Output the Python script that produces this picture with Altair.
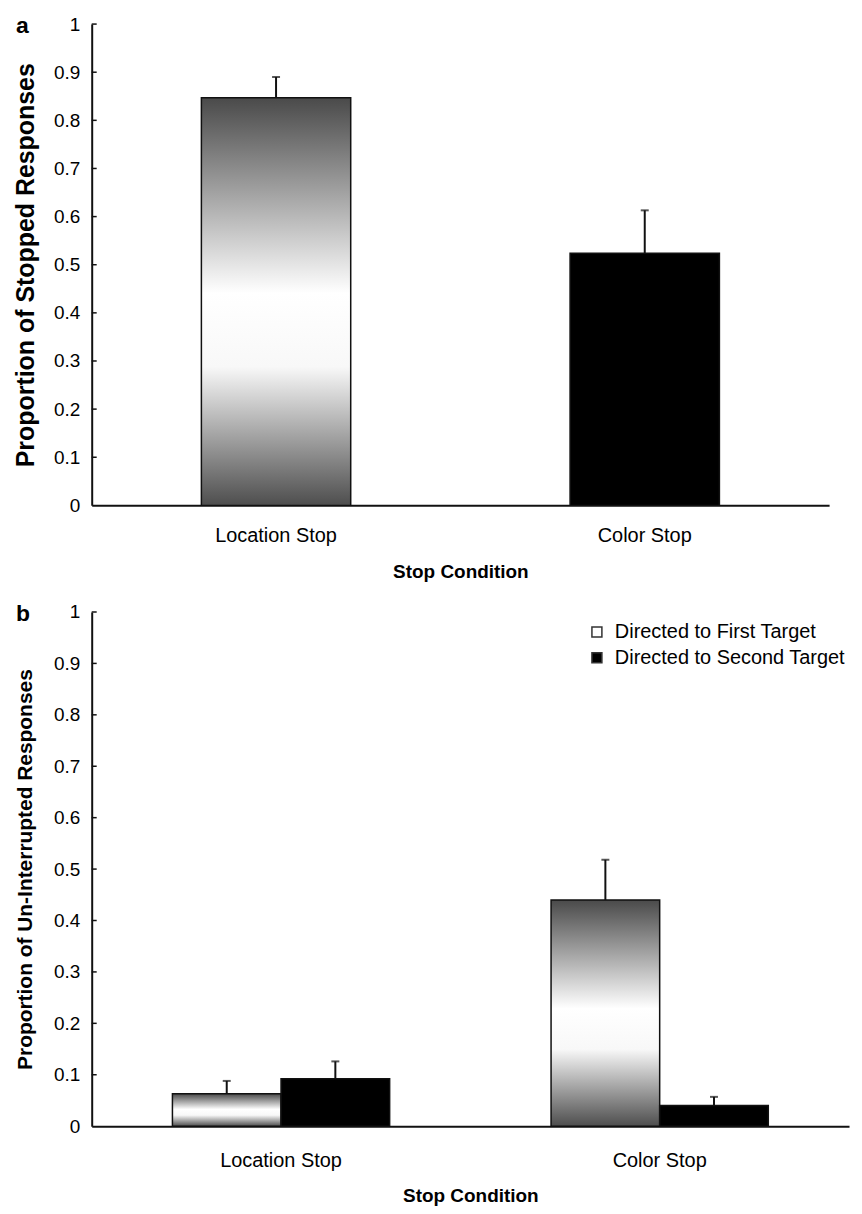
import altair as alt
import pandas as pd

# ---------------- data ----------------
conditions = ["Location Stop", "Color Stop"]

# panel a
a_values = [0.847, 0.524]
a_upper = [0.890, 0.613]

# panel b
series = ["Directed to First Target", "Directed to Second Target"]
b_first = [0.063, 0.440]
b_first_upper = [0.088, 0.518]
b_second = [0.092, 0.040]
b_second_upper = [0.126, 0.057]

y_ticks = [0.0, 0.1, 0.2, 0.3, 0.4, 0.5, 0.6, 0.7, 0.8, 0.9, 1.0]
inner_ticks = [0.1, 0.2, 0.3, 0.4, 0.5, 0.6, 0.7, 0.8, 0.9, 1.0]
panel_labels = ["a", "b"]

FONT = "Liberation Sans"
INK = "#111111"

grad = alt.LinearGradient(
    gradient="linear",
    stops=[
        alt.GradientStop(color="#4a4a4a", offset=0),
        alt.GradientStop(color="#ffffff", offset=0.48),
        alt.GradientStop(color="#f8f8f8", offset=0.66),
        alt.GradientStop(color="#4e4e4e", offset=1),
    ],
    x1=0, x2=0, y1=0, y2=1,
)

df_a = pd.DataFrame({"cond": conditions, "value": a_values, "upper": a_upper})
df_b = pd.DataFrame({
    "cond": conditions + conditions,
    "series": [series[0]] * 2 + [series[1]] * 2,
    "value": b_first + b_second,
    "upper": b_first_upper + b_second_upper,
})
df_t = pd.DataFrame({"v": inner_ticks})


def y_axis(title, title_size, title_pad):
    return alt.Axis(
        title=title, values=y_ticks, format=".1~f", ticks=False,
        labelPadding=12, titlePadding=title_pad, titleFontSize=title_size,
    )


def x_axis(label_pad, title_pad):
    return alt.Axis(title="Stop Condition", labelAngle=0, ticks=False,
                    labelFontSize=20, labelPadding=label_pad, titlePadding=title_pad)


def panel_label(txt):
    return alt.Chart(pd.DataFrame({"t": [txt]})).mark_text(
        font=FONT, fontSize=23, fontWeight="bold", align="left",
        baseline="alphabetic", color="black",
    ).encode(text="t:N", x=alt.value(-76), y=alt.value(9))


# ---------------- panel a ----------------
xa_scale = alt.Scale(paddingInner=0.595, paddingOuter=0.2975)
base_a = alt.Chart(df_a)
bars_a = base_a.mark_bar(stroke=INK, strokeWidth=1.5).encode(
    x=alt.X("cond:N", sort=conditions, scale=xa_scale, axis=x_axis(20, 17)),
    y=alt.Y("value:Q", scale=alt.Scale(domain=[0, 1]),
            axis=y_axis("Proportion of Stopped Responses", 25, 15)),
    fill=alt.condition(alt.datum.cond == conditions[0], alt.value(grad), alt.value("black")),
)
err_a = base_a.mark_rule(color=INK, strokeWidth=2).encode(
    x=alt.X("cond:N", sort=conditions), y="value:Q", y2="upper:Q")
cap_a = base_a.mark_tick(color=INK, thickness=2, size=8, orient="horizontal").encode(
    x=alt.X("cond:N", sort=conditions), y="upper:Q")
ticks_a = alt.Chart(df_t).mark_rule(color=INK, strokeWidth=1.5).encode(
    y="v:Q", x=alt.value(0), x2=alt.value(5))

panel_a = alt.layer(bars_a, err_a, cap_a, ticks_a, panel_label(panel_labels[0])).properties(
    width=740, height=483)

# ---------------- panel b ----------------
xb_scale = alt.Scale(paddingInner=0.4263, paddingOuter=0.2132)
base_b = alt.Chart(df_b)
xoff = alt.XOffset("series:N", sort=series)
bars_b = base_b.mark_bar(stroke=INK, strokeWidth=1.5).encode(
    x=alt.X("cond:N", sort=conditions, scale=xb_scale, axis=x_axis(24, 17)),
    xOffset=xoff,
    y=alt.Y("value:Q", scale=alt.Scale(domain=[0, 1]),
            axis=y_axis("Proportion of Un-Interrupted Responses", 21, 18)),
    fill=alt.condition(
        alt.datum.series == series[0],
        alt.value(grad),
        alt.Fill("series:N", sort=series,
                 scale=alt.Scale(domain=series, range=["white", "black"]),
                 legend=alt.Legend(orient="none", legendX=497, legendY=10, title=None,
                                   labelFontSize=20, labelFont=FONT, labelLimit=0,
                                   symbolSize=100, symbolType="square",
                                   symbolStrokeColor="#333333", symbolStrokeWidth=1.5,
                                   rowPadding=6, labelOffset=8)),
    ),
)
err_b = base_b.mark_rule(color=INK, strokeWidth=2).encode(
    x=alt.X("cond:N", sort=conditions), xOffset=xoff, y="value:Q", y2="upper:Q")
cap_b = base_b.mark_tick(color=INK, thickness=2, size=8, orient="horizontal").encode(
    x=alt.X("cond:N", sort=conditions), xOffset=xoff, y="upper:Q")
ticks_b = alt.Chart(df_t).mark_rule(color=INK, strokeWidth=1.5).encode(
    y="v:Q", x=alt.value(0), x2=alt.value(5))

panel_b = alt.layer(bars_b, err_b, cap_b, ticks_b, panel_label(panel_labels[1])).properties(
    width=760, height=516)

chart = alt.vconcat(panel_a, panel_b, spacing=22).resolve_legend(
    fill="independent"
).resolve_scale(
    fill="independent"
).configure(
    background="white"
).configure_view(
    stroke=None
).configure_axis(
    grid=False, domainColor=INK, domainWidth=2,
    labelFont=FONT, labelFontSize=19, labelColor="black",
    titleFont=FONT, titleFontSize=19, titleFontWeight="bold", titleColor="black",
)

chart.save("out.html", embed_options={"renderer": "svg", "actions": False})
